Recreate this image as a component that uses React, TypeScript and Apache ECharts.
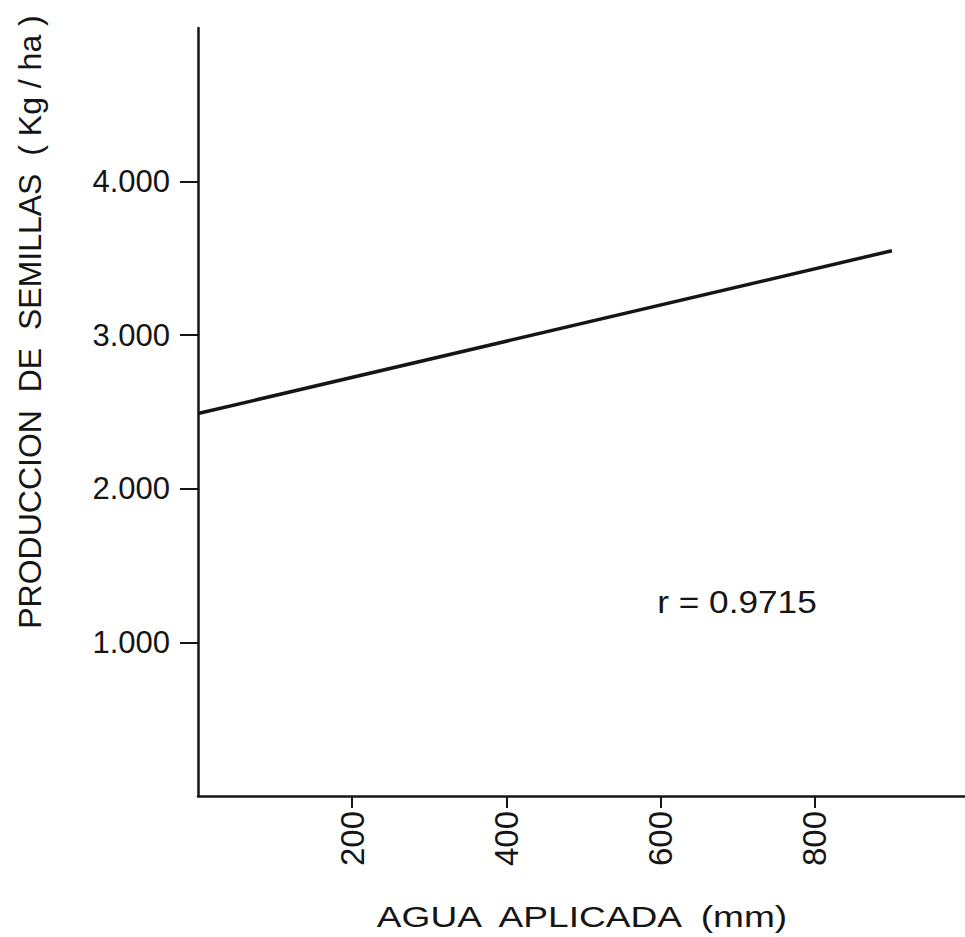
import React, { useEffect, useRef } from "react";
import * as echarts from "echarts";

const xTicks = [200, 400, 600, 800];
const yTicks = [1000, 2000, 3000, 4000];
const regressionX = [0, 900];
const regressionY = [2490, 3550];
const yTitle = "PRODUCCION  DE  SEMILLAS  ( Kg / ha )";
const xTitle = "AGUA  APLICADA  (mm)";
const rText = "r = 0.9715";

const FONT = "Liberation Sans";
const INK = "#151515";

export default function App() {
  const ref = useRef<HTMLDivElement>(null);
  useEffect(() => {
    if (!ref.current) return;
    const chart = echarts.init(ref.current, null, { renderer: "svg" });
    chart.setOption({
      animation: false,
      backgroundColor: "#ffffff",
      grid: { left: 198, right: -4, top: 28, bottom: 141, outerBoundsMode: "none" },
      xAxis: {
        type: "value",
        min: 0,
        max: 1000,
        interval: 200,
        splitLine: { show: false },
        axisLine: { show: true, lineStyle: { color: INK, width: 2.5 } },
        axisTick: { show: true, length: 12, customValues: xTicks, lineStyle: { color: INK, width: 2 } },
        axisLabel: {
          customValues: xTicks,
          rotate: 90,
          margin: 15,
          fontSize: 33,
          fontFamily: FONT,
          color: INK,
        },
      },
      yAxis: {
        type: "value",
        min: 0,
        max: 5000,
        interval: 1000,
        splitLine: { show: false },
        axisLine: { show: true, lineStyle: { color: INK, width: 2.5 } },
        axisTick: { show: true, length: 18, customValues: yTicks, lineStyle: { color: INK, width: 2 } },
        axisLabel: {
          customValues: yTicks,
          margin: 28,
          fontSize: 31,
          fontFamily: FONT,
          color: INK,
          formatter: (v: number) => (v / 1000).toFixed(3),
        },
      },
      series: [
        {
          type: "line",
          data: regressionX.map((x, i) => [x, regressionY[i]]),
          symbol: "none",
          lineStyle: { color: INK, width: 3.5 },
        },
      ],
      graphic: [
        {
          type: "text",
          x: 30,
          y: 322,
          rotation: Math.PI / 2,
          style: {
            text: yTitle,
            fontSize: 32,
            fontFamily: FONT,
            fill: INK,
            align: "center",
            verticalAlign: "middle",
          },
        },
        {
          type: "text",
          x: 582,
          y: 917,
          scaleX: 1.28,
          style: {
            text: xTitle,
            fontSize: 29,
            fontFamily: FONT,
            fill: INK,
            align: "center",
            verticalAlign: "middle",
          },
        },
        {
          type: "text",
          x: 737,
          y: 602,
          scaleX: 1.1,
          style: {
            text: rText,
            fontSize: 32,
            fontFamily: FONT,
            fill: INK,
            align: "center",
            verticalAlign: "middle",
          },
        },
      ],
    });
    return () => chart.dispose();
  }, []);
  return (
    <div
      ref={ref}
      style={{ position: "fixed", left: 0, top: 0, width: 965, height: 937, background: "#fff" }}
    />
  );
}
